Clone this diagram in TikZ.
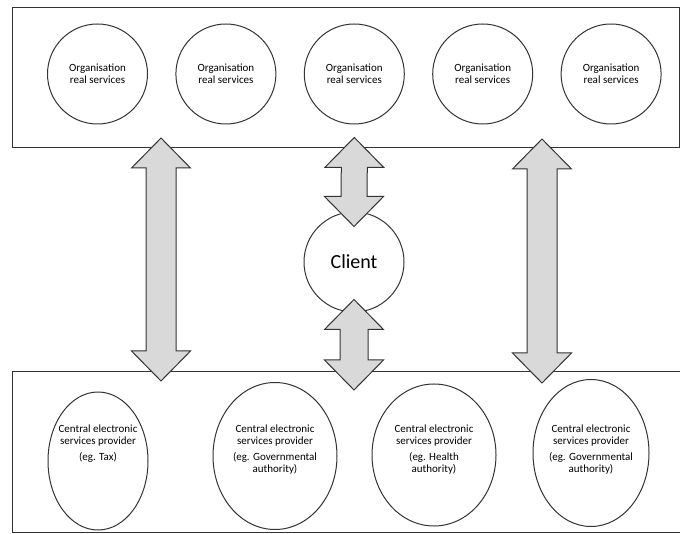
\documentclass[tikz,border=0pt]{standalone}
\usepackage{fontspec}
\setmainfont{Carlito}
\usepackage{tikz}
\usetikzlibrary{positioning}
\usetikzlibrary{calc}
\usetikzlibrary{shapes.geometric}
\definecolor{linegray}{rgb}{0.2, 0.2, 0.2}
\definecolor{arrowgray}{rgb}{0.85, 0.85, 0.85}
\tikzset{
  orgcircle/.style={draw=linegray, circle, line width=1pt, minimum size=100pt, inner sep=0pt, align=center, font=\fontsize{11}{12}\selectfont},
  provider/.style={draw=linegray, ellipse, line width=1pt, inner sep=0pt},
  provtext/.style={anchor=north, align=center, inner sep=0pt, font=\fontsize{11}{12}\selectfont},
  band/.style={draw=linegray, line width=1pt, inner sep=0pt},
  arrowbody/.style={draw=linegray, fill=arrowgray, line width=1pt, line join=miter},
}
% double headed block arrow between two tips, #1 = half shaft width
\newcommand{\biarrow}[3][15]{
  \draw[arrowbody] let \p1=(#2), \p2=(#3) in
    (\p1) -- (\x1+29.5pt,\y1-30pt) -- (\x1+#1pt,\y1-30pt) -- (\x2+#1pt,\y2+30pt)
    -- (\x2+29.5pt,\y2+30pt) -- (\p2) -- (\x2-29.5pt,\y2+30pt) -- (\x2-#1pt,\y2+30pt)
    -- (\x1-#1pt,\y1-30pt) -- (\x1-29.5pt,\y1-30pt) -- cycle;
}

\begin{document}
\begin{tikzpicture}[x=1pt, y=-1pt]
    \useasboundingbox (0,0) rectangle (680,534);
    \clip (0,0) rectangle (680,534);
    \fill[white] (0,0) rectangle (680,534);

    \node[band, minimum width=667pt, minimum height=140pt] (orgband) at (345.5,78) {};
    \node[band, minimum width=680pt, minimum height=160pt] (provband) at (352,452) {};

    \node[orgcircle] (org1) at (97.5,74) {Organisation\\real services};
    \node[orgcircle, right=27.4pt of org1] (org2) {Organisation\\real services};
    \node[orgcircle, right=27.4pt of org2] (org3) {Organisation\\real services};
    \node[orgcircle, right=27.4pt of org3] (org4) {Organisation\\real services};
    \node[orgcircle, right=27.4pt of org4] (org5) {Organisation\\real services};

    \node[orgcircle, font=\fontsize{20}{24}\selectfont] (client) at (354,262) {Client};

    \node[provider, minimum width=100pt, minimum height=138pt] (prov1) at (98,461) {};
    \node[provider, minimum width=124pt, minimum height=147pt] (prov2) at (275,456) {};
    \node[provider, minimum width=124pt, minimum height=142pt] (prov3) at (434,455) {};
    \node[provider, minimum width=116pt, minimum height=147pt] (prov4) at (591,453) {};

    \node[provtext] (prov1-text) at (prov1.center |- 0,425) {Central electronic\\services provider\\[4pt](eg. Tax)};
    \node[provtext] (prov2-text) at (prov2.center |- 0,425) {Central electronic\\services provider\\[4pt](eg. Governmental\\authority)};
    \node[provtext] (prov3-text) at (prov3.center |- 0,425) {Central electronic\\services provider\\[4pt](eg. Health\\authority)};
    \node[provtext] (prov4-text) at (prov4.center |- 0,425) {Central electronic\\services provider\\[4pt](eg. Governmental\\authority)};

    \coordinate (left-top) at (161,138);
    \coordinate (left-bot) at (161,381);
    \coordinate (right-top) at (542,139);
    \coordinate (right-bot) at (542,383);
    \coordinate (mid-top) at ($(org3.south)+(0,13)$);
    \coordinate (mid-client) at ($(client.north)+(0,15)$);
    \coordinate (client-mid) at ($(client.south)+(0,-13)$);
    \coordinate (mid-bot) at (client-mid |- 0,390);

    \biarrow{left-top}{left-bot}
    \biarrow[13]{mid-top}{mid-client}
    \biarrow[14]{client-mid}{mid-bot}
    \biarrow{right-top}{right-bot}
\end{tikzpicture}
\end{document}
